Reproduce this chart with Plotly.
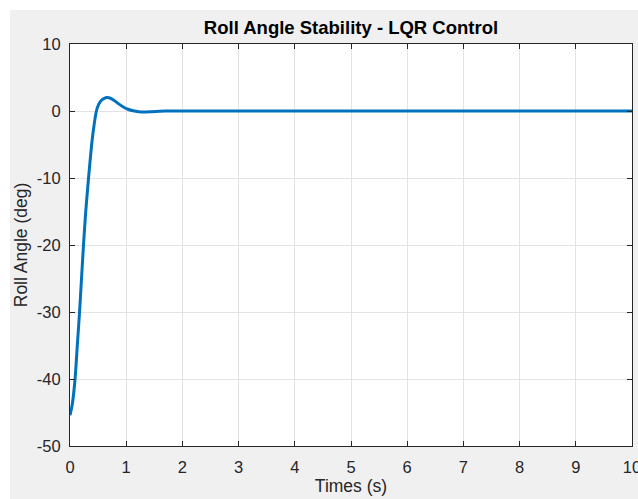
import plotly.graph_objects as go

# Data
time_s = [0, 0.04, 0.09, 0.13, 0.17, 0.205, 0.24, 0.28, 0.33, 0.385, 0.43, 0.47,
          0.51, 0.56, 0.61, 0.66, 0.72, 0.78, 0.86, 0.95, 1.02, 1.12, 1.22,
          1.32, 1.45, 1.6, 1.8, 2.0, 3, 4, 5, 6, 7, 8, 9, 10]
roll_deg = [-45.4, -43.8, -40, -35, -30, -25, -20, -15, -10, -5, -2, 0,
            1.0, 1.6, 1.9, 2.0, 1.9, 1.6, 1.1, 0.6, 0.3, 0.05, -0.1,
            -0.15, -0.1, -0.04, 0, 0, 0, 0, 0, 0, 0, 0, 0, 0]
x_ticks = [0, 1, 2, 3, 4, 5, 6, 7, 8, 9, 10]
y_ticks = [-50, -40, -30, -20, -10, 0, 10]
y_tick_text = ["-50", "-40", "-30", "-20", "-10", "0", "10"]

W, H = 638, 499
L, R, T, B = 70, 6, 44, 53
pw, ph = W - L - R, H - T - B
FONT = "Liberation Sans, Arial, Helvetica, sans-serif"
TXT = "#262626"

def px(xp):
    return (xp - L) / pw

def py(yp):
    return (H - B - yp) / ph

fig = go.Figure()
fig.add_trace(go.Scatter(x=time_s, y=roll_deg, mode="lines",
                         line=dict(color="#0072BD", width=3, shape="spline", smoothing=0.6),
                         showlegend=False))

axis_common = dict(
    showline=True, linecolor=TXT, linewidth=1, mirror="ticks",
    ticks="inside", ticklen=5, tickcolor=TXT, tickwidth=1,
    showgrid=True, gridcolor="#e3e3e3", gridwidth=1, zeroline=False,
    tickfont=dict(family=FONT, size=16.5, color=TXT),
    ticklabeloverflow="allow", automargin=False,
)

fig.update_xaxes(range=[0, 10], tickvals=x_ticks, ticklabelstandoff=6, **axis_common,
                 title=dict(text="Times (s)", standoff=4,
                            font=dict(family=FONT, size=17.5, color=TXT)))
fig.update_yaxes(range=[-50, 10], tickvals=y_ticks, ticktext=y_tick_text,
                 ticklabelstandoff=5, **axis_common,
                 title=dict(text="Roll Angle (deg)", standoff=4,
                            font=dict(family=FONT, size=17.5, color=TXT)))

fig.update_layout(
    width=W, height=H,
    margin=dict(l=L, r=R, t=T, b=B, pad=0, autoexpand=False),
    paper_bgcolor="white", plot_bgcolor="white",
    title=dict(text="<b>Roll Angle Stability - LQR Control</b>", xref="paper", x=0.5,
               xanchor="center", yref="container", y=1 - 28 / H, yanchor="middle",
               font=dict(family=FONT, size=18.5, color="black")),
    shapes=[
        dict(type="rect", xref="paper", yref="paper", x0=px(10), x1=px(W + 5),
             y0=py(H + 5), y1=py(10), fillcolor="#f0f0f0", line=dict(width=0), layer="below"),
        dict(type="rect", xref="paper", yref="paper", x0=0, x1=1, y0=0, y1=1,
             fillcolor="white", line=dict(width=0), layer="below"),
    ],
)

fig.write_html("out.html")
